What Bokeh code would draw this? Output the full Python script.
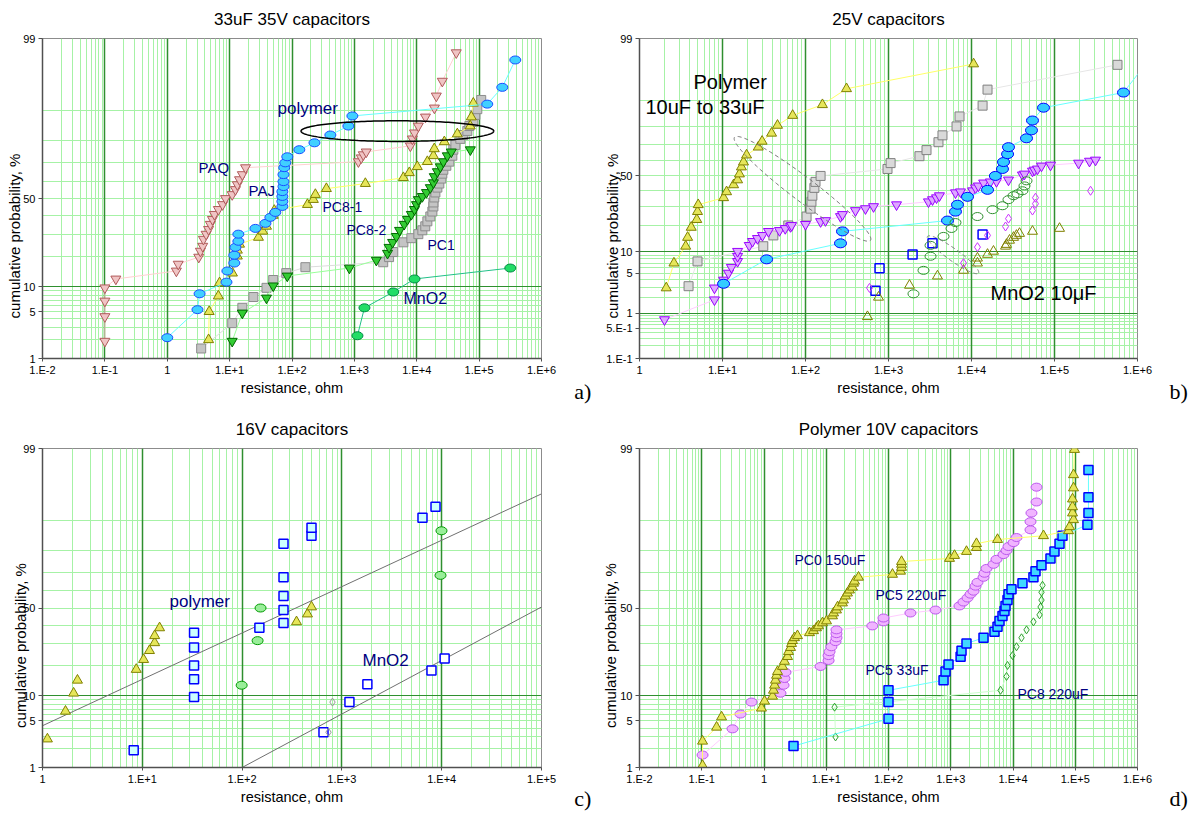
import math
import numpy as np
from statistics import NormalDist
from bokeh.plotting import figure
from bokeh.layouts import column, row
from bokeh.models import FixedTicker, Grid, Label, LinearAxis, Range1d
from bokeh.embed import file_html
from bokeh.resources import INLINE

ND = NormalDist()


def zq(pct):
    return round(ND.inv_cdf(pct / 100.0), 6)


FONT = "Liberation Sans"
NAVY = "#000080"
NBSP = "\u00a0"

# ---------------- data: panel a (33uF 35V) ----------------
a_paq_r = [0.1, 0.1, 0.1, 0.1, 0.15, 1.4, 1.5, 3.2, 3.4, 3.7, 3.8, 4.2, 4.6, 4.9, 5.3, 5.7, 6.6, 7.7, 8.6,
           11, 12.4, 13.3, 14.4, 16, 18, 1160, 1290, 1390, 1550, 7900, 8500, 9200, 10600, 13800, 19200,
           20600, 25700, 43000]
a_paq_p = [1.9, 4.3, 6.8, 9.7, 12.1, 14.6, 17, 19.7, 22.2, 24.4, 27.7, 30.2, 32.7, 35.4, 38.1, 40.9, 43.7,
           46.5, 50, 52.3, 55.2, 58, 60.8, 63.6, 67.3, 70.4, 72.3, 73.8, 75.1, 77.8, 80.7, 83, 85.4, 88.2,
           90.6, 93.2, 95.6, 98.3]
a_pol_r = [1.0, 3.05, 3.3, 8.9, 9.2, 11.9, 11.9, 12.4, 13.8, 13.8, 25.9, 37.5, 45, 54, 70, 70, 70, 70,
           73, 73, 73, 75, 78, 84, 131, 229, 412, 801, 929, 135000, 235000, 380000]
a_pol_p = [2.15, 5.3, 8.3, 11.2, 14.6, 17.4, 20.5, 23.9, 26.7, 30.2, 33.2, 35.9, 39.2, 42, 45.4, 48.3,
           51.2, 54, 56.9, 59.7, 63.6, 67.3, 69.8, 72.8, 76.1, 79.1, 82.2, 85.4, 88.5, 91.5, 94.7, 97.8]
a_pc81_r = [4.6, 4.7, 6.6, 6.9, 11.1, 13.3, 13.3, 14.4, 29, 34, 39, 50, 52, 177, 220, 237, 356, 1500,
            6100, 7600, 10200, 14800, 18500, 19100, 27700, 44700, 72000, 75000, 80700]
a_pc81_p = [2.0, 5.0, 7.8, 11, 13.9, 20.1, 22.6, 25.3, 28.6, 31.7, 34.3, 40.3, 43.1, 46.5, 49.4, 52.3,
            55.7, 58.6, 61.9, 64.6, 67.8, 70.4, 73.3, 76.5, 79.5, 82.6, 85.4, 88.2, 91.7]
a_pc1_r = [3.5, 11, 16, 24, 39, 50, 81, 164, 2900, 3600, 4200, 6100, 8200, 10600, 12300, 13700, 14800,
           16500, 17800, 18500, 18500, 19100, 19900, 21400, 23000, 24800, 25700, 26700, 29800, 33300,
           37200, 38600, 41600, 50000, 55900, 64700, 69700, 80700, 86900, 93500, 108000]
a_pc1_p = [1.46, 3.5, 5.6, 7.6, 9.7, 11.8, 13.9, 15.9, 17.7, 19.7, 21.8, 26.2, 28.2, 30.2, 32.2, 34.3,
           37, 39.7, 42.5, 45.4, 47.7, 50.6, 53.5, 56.3, 58.6, 61.4, 64.1, 66.2, 68.3, 70.4, 73.3, 76.1,
           78.2, 80.7, 82.2, 83.7, 85.4, 86.7, 88.8, 90.3, 92.4]
a_pc82_r = [11, 16, 39, 50, 84, 832, 2250, 3400, 3600, 4100, 4700, 5300, 6300, 7100, 8200, 9200, 9900,
            10600, 12300, 14300, 16500, 18500, 19100, 21400, 23900, 26700, 30900, 35800, 72300]
a_pc82_p = [1.9, 4.8, 7.4, 10.2, 13, 15.6, 18.5, 21.3, 23.9, 26.2, 29.1, 32.2, 35.4, 38.1, 40.9, 43.7,
            46.5, 49.4, 51.2, 53.5, 56.3, 59.1, 62.5, 65.2, 67.8, 70.4, 73.3, 75.1, 76.1]
a_mno2_r = [1120, 1450, 4200, 9200, 316000]
a_mno2_p = [2.3, 5.6, 8.7, 12.1, 15.6]

# ---------------- data: panel b (25V) ----------------
b_yel_r = [2.1, 2.6, 3.6, 3.8, 4.2, 4.9, 5.0, 5.1, 10.3, 11.2, 13.6, 15.2, 16, 16.9, 17.9, 19.5, 27, 30,
           39, 46, 70, 160, 312, 10600]
b_yel_p = [2.9, 7.0, 11.7, 14.9, 19.2, 23, 27.3, 31.3, 35.6, 39.4, 44, 47.3, 51.3, 56, 59.3, 63.8, 68.7,
           72.1, 76.5, 80.4, 84.7, 88.6, 93, 97.1]
b_gray_r = [3.9, 5.0, 31, 41, 62, 103, 115, 118, 121, 128, 132, 152, 973, 1060, 2360, 2870, 4000, 4470,
            6600, 7170, 13600, 15600, 574000]
b_gray_p = [3.1, 7.4, 11.7, 15.7, 20.1, 24.6, 29, 33.1, 36.9, 42, 46, 50, 54.7, 58.6, 63.1, 66.9, 71.6,
            75.4, 79.9, 84.3, 88.3, 92.8, 97]
b_pur_r = [2.0, 8.0, 8.0, 10.3, 11.8, 12.8, 15.2, 15.2, 15.2, 21, 23, 26.4, 30.3, 35.8, 48.6, 57, 66, 68,
           100, 152, 174, 264, 279, 400, 528, 660, 1250, 3030, 3390, 3790, 4110, 6410, 7370, 10300,
           11200, 12100, 14000, 16900, 20000, 27900, 41100, 43500, 54300, 57400, 62400, 69700, 89500,
           195000, 264000, 312000]
b_pur_p = [0.75, 1.8, 2.9, 3.9, 5.0, 6.1, 7.4, 8.7, 10.1, 12.0, 13.4, 14.5, 15.7, 17.4, 17.8, 18.7, 19.6,
           20.1, 20.6, 22, 22.5, 24.6, 25.7, 27.9, 29, 30.2, 31.3, 33.1, 34.4, 35.6, 36.9, 38.8, 39.4,
           40.1, 42, 43.3, 45.3, 46, 46.3, 47.3, 50.7, 51.3, 53.3, 54, 54.7, 56.7, 57.3, 58.6, 59.9, 60.6]
b_blue_r = [10.3, 34, 264, 279, 5140, 6410, 6780, 8950, 15600, 19400, 23600, 24300, 27200, 27900, 46000,
            52800, 54300, 73700, 678000, 1500000]
b_blue_p = [3.4, 7.9, 12.7, 17.4, 22.5, 27.3, 31.3, 36.2, 40.7, 50, 54.7, 59.3, 64.4, 68.7, 73.8, 78,
            82.6, 87.6, 92.1, 97.9]
b_sq_r = [697, 780, 1950, 3390, 13600]
b_sq_p = [2.6, 5.9, 9.2, 12.7, 16.1]
b_tri_r = [558, 758, 1790, 3890, 8010, 11800, 11800, 15600, 18400, 25700, 26400, 28700, 32100, 34800,
           37900, 54300, 115000]
b_tri_p = [0.86, 2.0, 3.2, 4.5, 5.5, 7.0, 8.2, 9.2, 10.1, 11.7, 12.3, 13.8, 14.9, 15.7, 16.5, 17.4, 18.7]
b_circ_r = [2000, 2640, 3210, 3210, 4600, 5740, 6410, 11800, 17900, 23600, 27900, 32100, 35800, 41100,
            43500, 46000]
b_circ_p = [2.3, 5.5, 8.7, 12.0, 15.3, 18.7, 21.5, 24.6, 28.4, 30.7, 34.4, 36.9, 38.1, 40.1, 43.3, 46.7]
b_dia_r = [590, 8010, 11800, 15600, 25700, 27900, 54300, 59000, 59000, 272000]
b_dia_p = [2.9, 7.0, 11.4, 15.7, 19.6, 23.5, 27.9, 31.9, 35.6, 40.1]

# ---------------- data: panel c (16V) ----------------
c_tri_r = [1.12, 1.7, 2.05, 2.24, 8.7, 10.3, 11.8, 13.3, 13.3, 14.9, 351, 452, 496]
c_tri_p = [2.8, 6.6, 10.7, 14.6, 18.5, 22.6, 26.7, 30.6, 34.3, 38.6, 42, 46.5, 50.6]
c_psq_r = [8.2, 33, 33, 33, 33, 33, 149, 260, 260, 260, 260, 260, 496, 496, 6420, 8670]
c_psq_p = [1.9, 9.7, 14.9, 20.1, 28.2, 35.9, 38.6, 41.4, 48.8, 56.9, 67.3, 82.6, 85.4, 87.9, 90.6, 93]
c_msq_r = [654, 1190, 1800, 7900, 10700]
c_msq_p = [3.5, 8.5, 13.3, 18.1, 23.1]
c_circ_r = [99, 143, 153, 9730, 9950]
c_circ_p = [13, 31.7, 50, 68.3, 87]
c_dia_r = [734, 805]
c_dia_p = [3.5, 8.5]
c_fit1_r = [1, 1e5]
c_fit1_p = [4.3, 95.2]
c_fit2_r = [100, 1e5]
c_fit2_p = [1.0, 50.6]

# ---------------- data: panel d (Polymer 10V) ----------------
d_tri_r = [0.103, 0.103, 0.173, 0.208, 0.91, 1.02, 1.37, 1.42, 1.48, 1.53, 1.59, 1.65, 1.98, 2.13, 2.39,
           2.48, 2.67, 2.77, 2.87, 3.09, 3.45, 5.38, 6.24, 6.97, 7.5, 8.7, 10.1, 12.6, 13.1, 14.6, 15.2,
           18.2, 18.9, 20.4, 21.9, 23.6, 26.4, 27.4, 28.4, 33, 116, 156, 162, 162, 162, 955, 1150, 1790,
           2590, 2590, 5640, 30900, 78000, 80900, 93800, 90400, 90400, 90400, 93800, 93800, 97300]
d_tri_p = [1.08, 2.6, 4.1, 5.6, 7.2, 8.7, 9.9, 11.5, 13, 14.6, 16.3, 17.7, 19.7, 21.8, 23.9, 26.2, 28.2,
           30.2, 31.7, 33.2, 34.3, 35.9, 37, 38.6, 39.7, 41.4, 42.5, 45.4, 47.1, 48.8, 50.6, 52.9, 54.6,
           56.9, 58.6, 60.3, 61.9, 64.1, 65.2, 67.3, 68.8, 70.4, 72.3, 73.8, 75.1, 76.5, 77.8, 79.5, 81.1,
           82.6, 84.1, 85.4, 87, 88.2, 90.1, 91.7, 93, 94.4, 96, 97.4, 98.96]
d_circ_r = [0.103, 0.312, 0.419, 0.63, 1.84, 2.06, 2.13, 2.21, 8.1, 10.9, 10.9, 11.3, 12.1, 14.1, 14.6,
            14.6, 14.6, 55, 83, 83, 225, 569, 1380, 1600, 1860, 2080, 2320, 2500, 2690, 3360, 3480, 3750,
            4860, 5430, 7030, 7870, 8470, 10200, 11400, 19100, 19100, 19800, 23900, 23900]
d_circ_p = [1.6, 3.9, 6.1, 8.5, 10.7, 13, 15.2, 17.4, 19.7, 22.2, 24.4, 26.2, 28.6, 31.2, 33.2, 35.4,
            37.5, 39.7, 42, 44.2, 47.1, 48.8, 51.2, 53.5, 55.8, 58, 59.7, 62.5, 64.6, 67.3, 69.4, 71.8,
            73.8, 76.1, 78.2, 79.9, 81.5, 83, 84.8, 87.3, 89.6, 91.7, 93.9, 96.1]
d_sq_r = [2.98, 100, 100, 100, 766, 824, 921, 1440, 1490, 1790, 3360, 5040, 5640, 6070, 6780, 7300, 7580,
          8160, 8470, 9460, 14200, 21300, 23000, 28700, 40000, 46400, 55900, 62400, 157000, 163000,
          163000, 163000]
d_sq_p = [2.2, 5.3, 8.5, 11.5, 14.6, 17.7, 20.5, 23.9, 26.7, 30.2, 33.2, 36.4, 39.2, 42.5, 45.4, 48.3,
          51.2, 54.6, 58, 60.8, 64.1, 67.3, 70.4, 73.3, 76.5, 79.5, 82.6, 85.4, 88.8, 91.7, 94.7, 97.8]
d_dia_r = [14.1, 13.6, 6310, 7870, 8170, 9820, 11400, 13700, 16500, 21300, 26700, 27700, 28700, 28700,
           29800]
d_dia_p = [3.0, 7.4, 11.5, 15.9, 20.1, 24.4, 28.6, 33.2, 37.5, 42, 46, 50.6, 54.6, 59.1, 63]

X_LABELS = {1e-2: "1.E-2", 1e-1: "1.E-1", 1.0: "1", 1e1: "1.E+1", 1e2: "1.E+2", 1e3: "1.E+3",
            1e4: "1.E+4", 1e5: "1.E+5", 1e6: "1.E+6"}
Y_TICKS_A = [1, 5, 10, 50, 99]
Y_TICKS_B = [0.1, 0.5, 1, 5, 10, 50, 99]
Y_TICK_TEXT = {0.1: "1.E-1", 0.5: "5.E-1", 1: "1", 5: "5", 10: "10", 50: "50", 99: "99"}


def text_axis(p, name, place, label, font, size, standoff):
    """A blank extra axis whose single tick label is used as a positioned text."""
    p.extra_x_ranges[name] = Range1d(1, 100) if place == "above" else Range1d(1, 10)
    tick = 10.0
    ax = LinearAxis(x_range_name=name, ticker=FixedTicker(ticks=[tick]),
                    major_label_overrides={tick: label},
                    axis_line_color=None, major_tick_line_color=None, major_tick_out=0,
                    minor_tick_line_color=None, major_label_standoff=standoff,
                    major_label_text_font=font, major_label_text_font_size=size,
                    major_label_text_color="black")
    p.add_layout(ax, place)


def make_panel(xlo, xhi, plo, yticks, left, right, top, bottom, W, H, title, tag,
               ylab_standoff, tag_standoff):
    p = figure(width=W, height=H, x_axis_type="log", x_range=(xlo, xhi),
               y_range=(zq(plo), zq(99)), output_backend="svg", toolbar_location=None,
               min_border_left=left, min_border_right=right, min_border_top=top,
               min_border_bottom=bottom, background_fill_color="white",
               border_fill_color="white")
    p.xgrid.visible = False
    p.ygrid.visible = False
    p.outline_line_color = "#8c8c8c"
    kmin = int(round(math.log10(xlo)))
    kmax = int(round(math.log10(xhi)))
    minor_x = [m * 10.0 ** k for k in range(kmin, kmax) for m in range(2, 10)]
    major_x = [10.0 ** k for k in range(kmin + 1, kmax)]
    pct_minor = [v for v in [0.2, 0.3, 0.4, 0.5, 0.6, 0.7, 0.8, 0.9, 2, 3, 4, 5, 6, 7, 8, 9,
                             20, 30, 40, 50, 60, 70, 80, 90] if v > plo]
    pct_major = [v for v in [1, 10] if v > plo]
    p.add_layout(Grid(dimension=0, ticker=FixedTicker(ticks=minor_x),
                      grid_line_color="#a6f2a6", grid_line_width=1))
    p.add_layout(Grid(dimension=1, ticker=FixedTicker(ticks=[zq(v) for v in pct_minor]),
                      grid_line_color="#a6f2a6", grid_line_width=1))
    p.add_layout(Grid(dimension=0, ticker=FixedTicker(ticks=major_x),
                      grid_line_color="#2f8f2f", grid_line_width=1.5))
    p.add_layout(Grid(dimension=1, ticker=FixedTicker(ticks=[zq(v) for v in pct_major]),
                      grid_line_color="#2f8f2f", grid_line_width=1.2))

    xt = [10.0 ** k for k in range(kmin, kmax + 1)]
    p.xaxis.ticker = FixedTicker(ticks=xt)
    p.xaxis.major_label_overrides = {t: X_LABELS[t] for t in xt}
    p.yaxis.ticker = FixedTicker(ticks=[zq(v) for v in yticks])
    p.yaxis.major_label_overrides = {zq(v): Y_TICK_TEXT[v] for v in yticks}
    for ax in (p.xaxis, p.yaxis):
        ax.axis_line_color = "#505050"
        ax.axis_line_width = 1.5
        ax.major_tick_in = 0
        ax.major_tick_line_color = "#505050"
        ax.minor_tick_line_color = None
        ax.major_label_text_font = FONT
        ax.major_label_text_font_size = "11px"
        ax.major_label_text_color = "black"
        ax.axis_label_text_font = FONT
        ax.axis_label_text_font_style = "normal"
        ax.axis_label_text_color = "black"
    p.xaxis.major_tick_out = 3
    p.yaxis.major_tick_out = 4
    p.xaxis.major_label_standoff = 2
    p.yaxis.major_label_standoff = 3
    p.xaxis.axis_label = "resistance, ohm"
    p.xaxis.axis_label_text_font_size = "14.5px"
    p.xaxis.axis_label_standoff = 1
    p.yaxis.axis_label = "cumulative probability, %" + NBSP * 18
    p.yaxis.axis_label_text_font_size = "15px"
    p.yaxis.axis_label_standoff = ylab_standoff

    p.title.text = ""
    p.extra_x_ranges = {}
    # chart title, centred over the plot area
    text_axis(p, "ttl", "above", title, FONT, "17px", 10)
    # panel tag such as "a)" at the lower right corner
    text_axis(p, "tag", "below", NBSP * 15 + tag, "Liberation Serif", "22px", tag_standoff + 6)
    return p


def series(p, r, pc, marker, size, fill, edge, line=None, lw=1):
    z = [zq(v) for v in pc]
    if line:
        p.line(r, z, line_color=line, line_width=1)
    if marker == "ellipse":
        p.ellipse(x=r, y=z, width=size[0], height=size[1], width_units="screen",
                  height_units="screen", fill_color=fill, line_color=edge, line_width=lw)
    else:
        p.scatter(r, z, marker=marker, size=size, fill_color=fill, line_color=edge, line_width=lw)


def text(p, x, y, s, size="15px", color=NAVY):
    p.add_layout(Label(x=x, y=y, x_units="screen", y_units="screen", text=s, text_font=FONT,
                       text_font_size=size, text_color=color, text_baseline="middle",
                       text_align="left"))


def ellipse_curve(p, logc, zc, u, v, color, width, dash):
    t = np.linspace(0, 2 * np.pi, 181)
    lx = logc + u[0] * np.cos(t) + v[0] * np.sin(t)
    zy = zc + u[1] * np.cos(t) + v[1] * np.sin(t)
    p.line(10 ** lx, zy, line_color=color, line_width=width, line_dash=dash)


YEL_F, YEL_E = "#e6e65a", "#808000"

# ---------------- panel a ----------------
pa = make_panel(1e-2, 1e6, 1, Y_TICKS_A, 42, 54, 38, 46, 595, 406, "33uF 35V capacitors", "a)", -3, -26)
series(pa, a_paq_r, a_paq_p, "inverted_triangle", 10, "#f0c4c4", "#b05a5a", "#ffd0d0")
series(pa, a_pc1_r, a_pc1_p, "square", 9, "#c4c4c4", "#8c8c8c", "#dcdcdc")
series(pa, a_pc82_r, a_pc82_p, "inverted_triangle", 10, "#33cc33", "#006600", "#99ff99")
series(pa, a_pc81_r, a_pc81_p, "triangle", 10, YEL_F, YEL_E, "#ffff66")
series(pa, a_pol_r, a_pol_p, "ellipse", (11, 8), "#40d0ff", "#1a4dff", "#66ffff")
series(pa, a_mno2_r, a_mno2_p, "ellipse", (11, 8), "#22dd66", "#008844", "#22c088")
ellipse_curve(pa, 3.69, 0.98, (1.545, 0.0), (0.0, 0.15), "black", 1.5, "solid")
text(pa, 235, 250, "polymer", "17px")
text(pa, 156, 191, "PAQ")
text(pa, 206, 168, "PAJ")
text(pa, 280, 152, "PC8-1", "14px")
text(pa, 304, 129, "PC8-2", "14px")
text(pa, 385, 114, "PC1", "14px")
text(pa, 361, 60, "MnO2", "16px")

# ---------------- panel b ----------------
pb = make_panel(1, 1e6, 0.1, Y_TICKS_B, 44, 53, 38, 46, 595, 406, "25V capacitors", "b)", -18, -26)
series(pb, b_gray_r, b_gray_p, "square", 9, "#d9d9d9", "#808080", "#e6e6e6")
series(pb, b_yel_r, b_yel_p, "triangle", 10, YEL_F, YEL_E, "#ffff66")
series(pb, b_pur_r, b_pur_p, "inverted_triangle", 10, "#dda8ff", "#9900ff", "#ffccff")
series(pb, b_blue_r, b_blue_p, "ellipse", (12, 9), "#33ccff", "#0000ff", "#66ffff")
series(pb, b_sq_r, b_sq_p, "square", 9, None, "#0000ff", lw=1.5)
series(pb, b_tri_r, b_tri_p, "triangle", 10, None, "#808000")
series(pb, b_circ_r, b_circ_p, "ellipse", (11, 8), None, "#2f8f2f")
series(pb, b_dia_r, b_dia_p, "diamond", 9, None, "#cc33ff")
ellipse_curve(pb, 1.964, -0.218, (0.819, -0.872), (0.088, 0.16), "#777777", 1, "4 3")
ellipse_curve(pb, 3.777, -1.334, (0.307, -0.31), (0.042, 0.082), "#777777", 1, "4 3")
text(pb, 54, 277, "Polymer", "20px", "black")
text(pb, 6, 252, "10uF to 33uF", "20px", "black")
text(pb, 351, 66, "MnO2 10\u03bcF", "20px", "black")

# ---------------- panel c ----------------
pc = make_panel(1, 1e5, 1, Y_TICKS_A, 42, 54, 42, 44, 595, 407, "16V capacitors", "c)", -9, -28)
for fr, fp in ((c_fit1_r, c_fit1_p), (c_fit2_r, c_fit2_p)):
    pc.line(fr, [zq(v) for v in fp], line_color="#707070", line_width=1)
series(pc, c_tri_r, c_tri_p, "triangle", 10, YEL_F, YEL_E)
series(pc, c_psq_r, c_psq_p, "square", 9, "#ccffff", "#0000ff", lw=1.5)
series(pc, c_msq_r, c_msq_p, "square", 9, "white", "#0000ff", lw=1.5)
series(pc, c_circ_r, c_circ_p, "ellipse", (11, 8), "#99ee99", "#009900")
series(pc, c_dia_r, c_dia_p, "diamond", 8, None, "#999999")
text(pc, 127, 166, "polymer", "17px")
text(pc, 320, 107, "MnO2", "17px")

# ---------------- panel d ----------------
pd_ = make_panel(1e-2, 1e6, 1, Y_TICKS_A, 44, 53, 42, 44, 595, 407, "Polymer 10V capacitors", "d)", -2, -28)
series(pd_, d_dia_r, d_dia_p, "diamond", 8, None, "#2f9f2f", "#ccffcc")
series(pd_, d_sq_r, d_sq_p, "square", 9, "#40d8ff", "#0000ff", "#66ffff", lw=1.5)
series(pd_, d_circ_r, d_circ_p, "ellipse", (11, 8), "#f0b4ff", "#bb55ee", "#ffccff")
series(pd_, d_tri_r, d_tri_p, "triangle", 10, YEL_F, YEL_E, "#ffff66")
text(pd_, 155, 208, "PC0 150uF", "14px")
text(pd_, 236, 173, "PC5 220uF", "14px")
text(pd_, 226, 98, "PC5 33uF", "14px")
text(pd_, 378, 74, "PC8 220uF", "14px")

layout = column(row(pa, pb), row(pc, pd_))
open("out.html", "w").write(file_html(layout, INLINE))
